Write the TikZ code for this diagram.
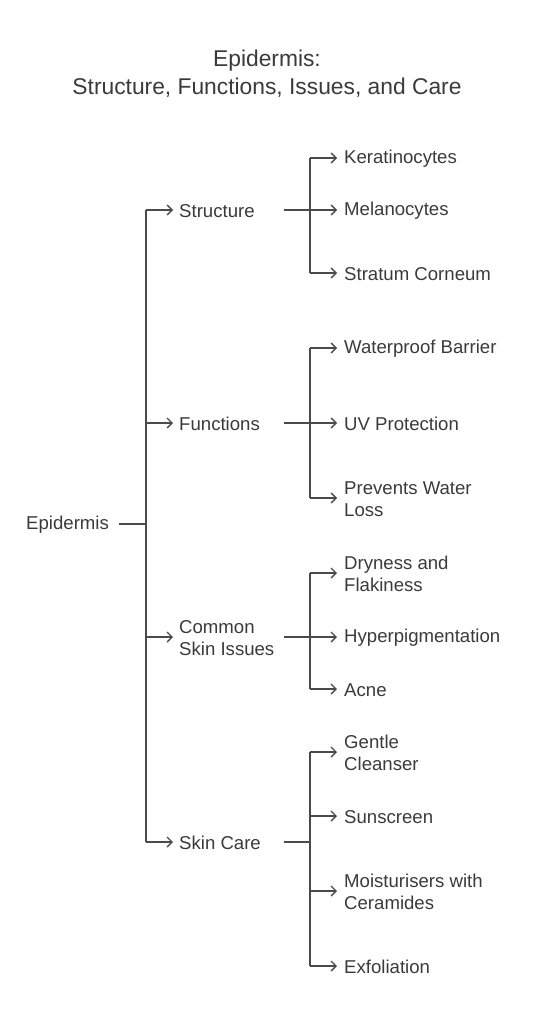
\documentclass[tikz,border=0pt]{standalone}
\usepackage{fontspec}
\setmainfont{Liberation Sans}
\usetikzlibrary{arrows.meta}
\definecolor{txt}{HTML}{3A3A3A}
\definecolor{ln}{HTML}{4A4A4A}
\begin{document}
\begin{tikzpicture}[x=1pt,y=-1pt,
  lbl/.style={anchor=west,inner sep=0pt,text=txt,font=\fontsize{18.6}{22}\selectfont,align=left},
  ttl/.style={inner sep=0pt,text=txt,font=\fontsize{22.8}{28}\selectfont,align=center},
  conn/.style={draw=ln,line width=1.4pt},
  arr/.style={conn,-{Straight Barb[length=5pt,width=10pt,line width=1.4pt]}}]
\useasboundingbox (0,0) rectangle (534,1024);
\node[ttl] (title) at (267,74) {Epidermis:\\Structure, Functions, Issues, and Care};
% root
\node[lbl] (root) at (26,525) {Epidermis};
\coordinate (rootout) at (119,524);
\coordinate (trunk) at (146,524);
% level 1
\node[lbl] (s) at (179,211) {Structure};
\node[lbl] (f) at (179,424) {Functions};
\node[lbl] (c) at (179,638) {Common\\Skin Issues};
\node[lbl] (k) at (179,843) {Skin Care};
\coordinate (sout) at (284,210);
\coordinate (fout) at (284,423);
\coordinate (cout) at (284,637);
\coordinate (kout) at (284,842);
% level 2
\node[lbl] (s1) at (344,159) {Keratinocytes};
\node[lbl] (s2) at (344,211) {Melanocytes};
\node[lbl] (s3) at (344,274) {Stratum Corneum};
\node[lbl] (f1) at (344,349) {Waterproof Barrier};
\node[lbl] (f2) at (344,424) {UV Protection};
\node[lbl] (f3) at (344,499) {Prevents Water\\Loss};
\node[lbl] (c1) at (344,574) {Dryness and\\Flakiness};
\node[lbl] (c2) at (344,638) {Hyperpigmentation};
\node[lbl] (c3) at (344,690) {Acne};
\node[lbl] (k1) at (344,753) {Gentle\\Cleanser};
\node[lbl] (k2) at (344,817) {Sunscreen};
\node[lbl] (k3) at (344,892) {Moisturisers with\\Ceramides};
\node[lbl] (k4) at (344,967) {Exfoliation};
% connectors
\draw[conn] (rootout) -- (trunk);
\draw[conn] (146,210) -- (146,842);
\foreach \n/\y in {s/210,f/423,c/637,k/842}{
  \draw[arr] (146,\y) -- (173,\y);
}
% second level junctions
\foreach \p/\a/\b in {s/158/273,f/348/498,c/573/689,k/752/966}{
  \draw[conn] (\p out) -- (310,0 |- \p out);
  \draw[conn] (310,\a) -- (310,\b);
}
\foreach \y in {158,210,273,348,423,498,573,637,689,752,816,891,966}{
  \draw[arr] (310,\y) -- (337,\y);
}
\end{tikzpicture}
\end{document}
